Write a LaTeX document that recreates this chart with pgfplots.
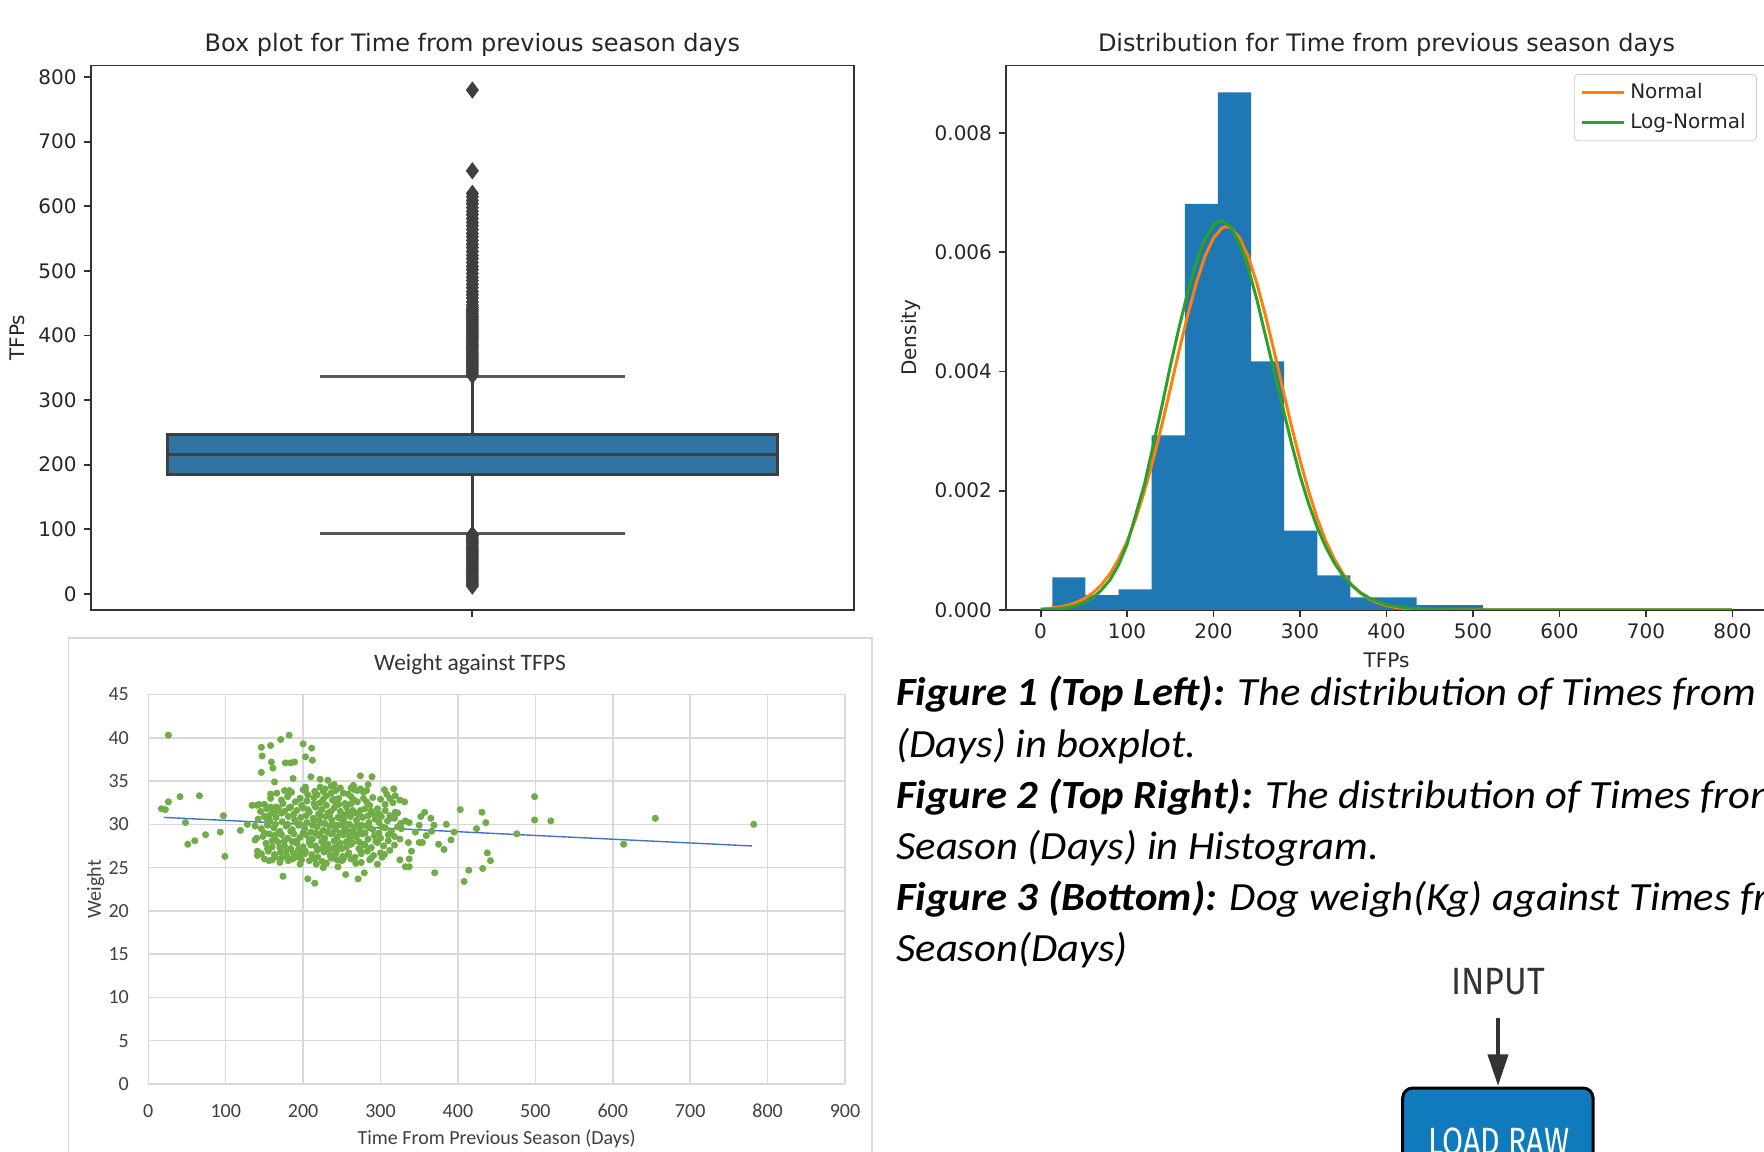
\documentclass[border=0pt]{standalone}
\usepackage{fontspec}
\setmainfont{DejaVu Sans}
\newfontfamily\carlito{Carlito}
\newfontfamily\fira{Fira Sans}
\usepackage{pgfplots}
\pgfplotsset{compat=1.18}
\usetikzlibrary{arrows.meta}

\definecolor{boxblue}{HTML}{3274A1}
\definecolor{boxgray}{HTML}{3F3F3F}
\definecolor{histblue}{HTML}{1F77B4}
\definecolor{mplorange}{HTML}{FF7F0E}
\definecolor{mplgreen}{HTML}{2CA02C}
\definecolor{exgreen}{HTML}{70AD47}
\definecolor{exblue}{HTML}{4472C4}
\definecolor{gridgray}{HTML}{D9D9D9}
\definecolor{flowblue}{HTML}{0F7BBD}

\pgfplotsset{
  mpl/.style={
    scale only axis,
    axis line style={draw=black!80, line width=0.9pt},
    tick style={draw=black!80, line width=0.9pt},
    tick align=outside, tick pos=left, major tick length=3.5pt,
    ticklabel style={font=\fontsize{10}{12}\selectfont, text=black!85},
    label style={font=\fontsize{10}{12}\selectfont, text=black!85},
    title style={font=\fontsize{12}{14}\selectfont, text=black!85, anchor=base, yshift=1pt},
    /pgf/number format/assume math mode=true,
  }
}

\begin{document}
\begin{tikzpicture}
\useasboundingbox (0pt,0pt) rectangle (882pt,575.5pt);
\fill[white] (0pt,0pt) rectangle (882pt,575.5pt);
\begin{scope}
\clip (0pt,0pt) rectangle (882pt,575.5pt);

% ---------------- Box plot ----------------
\begin{axis}[mpl,
  width=381.65pt, height=272.25pt,
  at={(45.35pt,270.5pt)}, anchor=south west,
  xmin=-0.5, xmax=0.5, ymin=-25, ymax=818,
  xtick={0}, xticklabels={},
  ytick={0,100,...,800},
  ylabel={TFPs},
  title={Box plot for Time from previous season days},
]
% whiskers and caps
\addplot[draw=boxgray, line width=1.5pt] coordinates {(0,246) (0,337)};
\addplot[draw=boxgray, line width=1.5pt] coordinates {(0,185.5) (0,94)};
\addplot[draw=black!65, line width=1.6pt] coordinates {(-0.2,337) (0.2,337)};
\addplot[draw=black!65, line width=1.6pt] coordinates {(-0.2,94) (0.2,94)};
% box
\addplot[draw=boxgray, fill=boxblue, line width=1.5pt, line join=miter] coordinates {
(-0.4,185.5) (0.4,185.5) (0.4,246) (-0.4,246) (-0.4,185.5) (0.4,185.5)};
% median
\addplot[draw=boxgray, line width=1.6pt] coordinates {(-0.4,216) (0.4,216)};
% outliers
\addplot[only marks, mark=diamond*, mark size=4pt,
  mark options={fill=boxgray, draw=boxgray, line width=0.4pt}] coordinates {
(0,338) (0,341) (0,344) (0,347) (0,350) (0,353) (0,356) (0,359) (0,362) (0,365) (0,368) (0,371) (0,374) (0,377)
(0,380) (0,383) (0,386) (0,389) (0,392) (0,395) (0,398) (0,401) (0,404) (0,407) (0,410) (0,413) (0,416) (0,419)
(0,422) (0,425) (0,428) (0,431) (0,434) (0,437) (0,440) (0,443) (0,447) (0,452) (0,458) (0,463) (0,468) (0,474)
(0,479) (0,485) (0,490) (0,496) (0,502) (0,507) (0,513) (0,519) (0,524) (0,530) (0,536) (0,541) (0,547) (0,553)
(0,558) (0,564) (0,570) (0,575) (0,581) (0,587) (0,592) (0,598) (0,604) (0,609) (0,615) (0,620) (0,655) (0,780)
(0,12) (0,15) (0,18) (0,21) (0,24) (0,27) (0,30) (0,33) (0,36) (0,39) (0,42) (0,45) (0,48) (0,51) (0,54) (0,57)
(0,60) (0,63) (0,66) (0,69) (0,72) (0,75) (0,78) (0,81) (0,84) (0,87) (0,90) (0,92)
};
\end{axis}

% ---------------- Histogram ----------------
\begin{axis}[mpl,
  width=380.5pt, height=272.25pt,
  at={(503pt,270.5pt)}, anchor=south west,
  xmin=-40, xmax=840, ymin=0, ymax=0.00913,
  xtick={0,100,...,800},
  ytick={0,0.002,0.004,0.006,0.008},
  scaled y ticks=false,
  yticklabel style={/pgf/number format/.cd, fixed, fixed zerofill, precision=3},
  xlabel={TFPs}, ylabel={Density},
  title={Distribution for Time from previous season days},
  legend style={at={(0.9868,0.9844)}, anchor=north east,
    draw=black!20, rounded corners=2pt, fill=white,
    font=\fontsize{10}{12}\selectfont, text=black!85,
    inner xsep=3pt, inner ysep=2pt, row sep=1pt,
    nodes={inner sep=2.5pt}},
  legend cell align=left,
  legend image code/.code={\draw[#1, line width=1.5pt] (0pt,0pt) -- (21pt,0pt);},
]
\addplot[ybar interval, fill=histblue, draw=none, forget plot] coordinates {
(13.6,0.000547) (51.9,0.00025) (90.2,0.000346) (128.5,0.00293) (166.8,0.00681)
(205.1,0.00868) (243.4,0.00417) (281.7,0.00133) (320,0.00058) (358.3,0.00021)
(396.6,0.00021) (434.9,0.00008) (473.2,0.00008) (511.5,0.000008) (549.8,0.000008)
(588.1,0.000008) (626.4,0.000008) (664.7,0) (703,0) (741.3,0.000008) (779.6,0)
};
\addplot[mplorange, line width=1.5pt] coordinates {
(0,0.0000158) (10,0.0000272) (20,0.0000457) (30,0.000075) (40,0.00012)
(50,0.000186) (60,0.000282) (70,0.000417) (80,0.000601) (90,0.000844)
(100,0.00115) (110,0.00153) (120,0.00199) (130,0.00251) (140,0.00309)
(150,0.00371) (160,0.00434) (170,0.00494) (180,0.00548) (190,0.00593)
(200,0.00624) (210,0.00641) (215,0.00643) (220,0.00641) (230,0.00624)
(240,0.00593) (250,0.00548) (260,0.00494) (270,0.00434) (280,0.00371)
(290,0.00309) (300,0.00251) (310,0.00199) (320,0.00153) (330,0.00115)
(340,0.000844) (350,0.000601) (360,0.000417) (370,0.000282) (380,0.000186)
(390,0.00012) (400,0.000075) (410,0.0000457) (420,0.0000272) (440,0.0000089)
(460,0.0000026) (500,0.0000002) (600,0) (700,0) (800,0)
};
\addlegendentry{Normal}
\addplot[mplgreen, line width=1.5pt] coordinates {
(0,0.000005) (10,0.00001) (20,0.00002) (30,0.00004) (40,0.00007)
(50,0.00012) (60,0.0002) (70,0.00033) (80,0.0005) (90,0.00075)
(100,0.0011) (110,0.0016) (120,0.0021) (130,0.00275) (140,0.0034)
(150,0.00409) (160,0.00473) (170,0.00532) (180,0.00583) (190,0.00622)
(200,0.00646) (209,0.00653) (220,0.00642) (230,0.00615) (240,0.00574)
(250,0.00521) (260,0.0046) (270,0.004) (280,0.0034) (290,0.0028)
(300,0.00225) (310,0.00178) (320,0.00138) (330,0.00105) (340,0.00078)
(350,0.00057) (360,0.00041) (370,0.00029) (380,0.0002) (390,0.00014)
(400,0.00009) (420,0.00004) (440,0.000015) (470,0.000004) (500,0.000001)
(600,0) (700,0) (800,0)
};
\addlegendentry{Log-Normal}
\end{axis}

% ---------------- Excel scatter ----------------
\draw[gridgray, line width=0.75pt] (34.15pt,256.5pt) rectangle (436pt,-20pt);
\begin{axis}[
  scale only axis,
  width=348.35pt, height=194.75pt,
  at={(74.15pt,33.5pt)}, anchor=south west,
  xmin=0, xmax=900, ymin=0, ymax=45,
  xtick={0,100,...,900}, ytick={0,5,...,45},
  grid=major, major grid style={draw=gridgray, line width=0.75pt},
  axis line style={draw=none}, major tick length=0pt,
  ticklabel style={font=\carlito\fontsize{10}{12}\selectfont, text=black!75},
  /pgf/number format/assume math mode=true,
  yticklabel style={xshift=-6.2pt},
  xticklabel style={yshift=-6.5pt},
  title={Weight against TFPS},
  title style={font=\carlito\fontsize{11.75}{14}\selectfont, text=black!80,
    at={(axis description cs:0.4618,1)}, anchor=center, yshift=9.2pt},
  xlabel={Time From Previous Season (Days)},
  ylabel={Weight},
  xlabel style={font=\carlito\fontsize{10}{12}\selectfont, text=black!75,
    at={(axis description cs:0.5,0)}, anchor=center, yshift=-27.25pt},
  ylabel style={font=\carlito\fontsize{10}{12}\selectfont, text=black!75,
    at={([xshift=-26.35pt]axis description cs:0,0.5)}, anchor=center},
]
\addplot[only marks, mark=*, mark size=1.55pt, mark options={fill=exgreen, draw=exgreen}] coordinates {
(17,31.8) (22,31.7) (26,40.3) (26,32.6) (41,33.2) (48,30.2) (51,27.7) (60,28.1) (66,33.3) (74,28.8)
(93,29.1) (97,31.0) (99,26.3) (119,29.3) (128,30.0) (134,32.2) (138,28.2) (140,28.4) (141,26.9) (141,26.4)
(146,38.9) (147,37.9) (146,36.0) (158,39.1) (159,37.2) (161,36.5) (163,34.9) (171,39.8) (177,37.1) (182,40.3)
(184,37.1) (189,37.2) (187,35.3) (174,24.0) (182,33.9) (200,39.3) (203,37.8) (211,38.8) (212,37.4) (206,23.7)
(215,23.2) (222,35.2) (222,34.3) (203,34.3) (203,33.9) (236,34.4) (265,34.5) (274,35.6) (289,35.5) (274,34.1)
(282,33.9) (255,24.2) (271,23.7) (279,24.4) (245,25.1) (226,25.0) (217,25.4) (305,34.0) (317,34.1) (308,33.5)
(319,33.3) (325,32.8) (331,32.6) (316,32.5) (319,31.4) (305,26.5) (325,25.9) (332,25.1) (337,25.1) (337,26.0)
(340,26.9) (336,27.9) (325,28.3) (327,29.5) (332,30.4) (337,30.2) (345,29.1) (350,29.9) (352,30.9) (357,31.4)
(359,28.7) (354,27.9) (350,27.9) (365,30.7) (369,29.9) (366,29.2) (370,24.4) (375,27.7) (382,27.1) (385,30.0)
(391,28.2) (395,29.1) (403,31.7) (408,23.4) (414,24.7) (424,29.5) (431,31.4) (432,24.9) (436,30.2) (438,26.7)
(442,25.8) (476,28.9) (499,33.2) (499,30.5) (520,30.4) (614,27.7) (655,30.7) (782,30.0)
(150,32.3) (158,33.0) (165,32.0) (172,32.8) (180,33.2) (190,32.6) (196,33.0) (205,32.7) (214,33.1) (222,32.5)
(230,33.3) (238,32.8) (246,33.0) (254,32.4) (262,33.2) (270,32.6) (278,33.0) (286,32.2) (296,31.8) (140,32.2) (143,32.3)
(145,31.5) (153,31.8) (160,31.3) (168,31.9) (176,31.5) (184,32.0) (192,31.6) (200,31.9) (208,31.4) (216,32.0)
(224,31.7) (232,31.3) (240,31.9) (248,31.5) (256,32.0) (264,31.6) (272,31.2) (280,31.8) (288,31.5) (298,31.2) (306,31.6) (312,31.0)
(142,30.6) (150,30.9) (157,30.4) (165,30.8) (173,30.3) (181,30.9) (189,30.5) (197,30.8) (205,30.2) (213,30.7)
(221,30.4) (229,30.9) (237,30.5) (245,30.8) (253,30.3) (261,30.9) (269,30.5) (277,30.8) (285,30.2) (293,30.6)
(301,30.9) (309,30.4) (318,30.7) (326,30.1)
(138,29.8) (146,29.5) (154,29.9) (162,29.6) (170,29.2) (178,29.8) (186,29.4) (194,29.9) (202,29.5) (210,29.1)
(218,29.7) (226,29.3) (234,29.8) (242,29.4) (250,29.9) (258,29.2) (266,29.6) (274,29.3) (282,29.8) (290,29.4)
(298,29.0) (306,29.6) (314,29.2) (322,29.7)
(148,28.6) (156,28.9) (164,28.3) (172,28.8) (180,28.4) (188,28.9) (196,28.5) (204,28.8) (212,28.3) (220,28.7)
(228,28.4) (236,28.9) (244,28.5) (252,28.8) (260,28.2) (268,28.6) (276,28.9) (284,28.3) (292,28.7) (300,28.4) (310,28.1) (318,28.6)
(152,27.8) (160,27.4) (168,27.9) (176,27.5) (184,27.2) (192,27.8) (200,27.4) (208,27.9) (216,27.5) (224,27.2)
(232,27.7) (240,27.3) (248,27.8) (256,27.4) (264,27.9) (272,27.2) (280,27.6) (288,27.3) (296,27.9) (304,27.5) (312,27.0)
(146,26.6) (155,26.9) (163,26.5) (171,26.8) (179,26.3) (187,26.7) (195,26.4) (203,26.9) (211,26.5) (219,26.2)
(227,26.8) (235,26.4) (243,26.9) (251,26.3) (259,26.7) (267,26.2) (275,26.6) (283,26.9) (291,26.4) (300,26.7)
(150,26.0) (160,25.9) (172,26.1) (181,25.8) (190,26.2) (198,25.9) (214,26.0) (225,25.7) (238,26.1) (250,25.8)
(262,26.0) (275,25.6) (288,26.1) (302,26.2)
(185,33.7) (200,34.0) (215,33.8) (228,34.1) (242,33.9) (252,33.6) (266,34.0) (278,33.7) (158,33.5) (240,34.6) (232,35.1)
(204,31.0) (212,29.9) (220,31.2) (228,30.1) (236,31.5) (244,29.9) (252,31.1) (260,30.0) (268,31.3) (276,29.9)
(284,31.0) (196,30.0) (188,31.2) (180,30.0) (172,31.3) (164,30.0) (156,31.0) (208,28.2) (216,29.0) (224,28.0)
(232,29.1) (240,28.1) (248,29.0) (256,28.0) (264,29.1) (272,28.0) (280,29.0) (200,29.0) (192,28.1) (184,29.2)
(176,28.1) (168,29.0) (160,28.1) (214,32.4) (222,31.0) (230,32.2) (238,30.0) (246,32.3) (254,31.0) (262,32.4)
(270,30.0) (234,27.0) (242,26.6) (250,27.2) (258,26.5) (226,27.9) (218,27.0)
(150,29.0) (154,30.5) (158,32.0) (162,28.7) (166,31.6) (170,27.3) (174,32.4) (178,26.8) (182,31.9) (186,28.0)
(190,30.3) (194,27.1) (198,32.2) (202,26.6) (206,31.7) (210,27.6) (214,30.4) (218,33.4) (222,28.9) (226,32.9)
(230,27.5) (234,31.0) (238,29.0) (242,32.5) (246,27.6) (250,30.6) (254,29.4) (258,31.4) (262,27.7) (266,32.8)
(270,28.8) (274,31.6) (278,27.7) (282,32.6) (286,29.6) (290,31.2) (294,28.0) (298,30.2) (302,29.7) (306,32.3)
(310,28.8) (314,30.8) (318,27.6) (322,31.3) (210,35.5) (226,33.8) (248,34.2) (258,33.5) (270,33.9) (290,33.1)
(300,32.9) (196,25.4) (208,25.8) (230,25.5) (244,25.9) (268,25.5) (286,25.9) (296,25.4) (166,33.6) (176,33.9)
(154,27.2) (164,26.2) (156,25.8) (170,25.6) (236,26.1) (252,26.0) (206,33.4) (236,33.6) (262,34.2) (284,34.6)
(312,33.0) (240,32.9) (260,28.6) (274,27.0) (196,26.9) (186,26.0)
};
\addplot[exblue, line width=0.7pt] coordinates {(20,30.8) (780,27.5)};
\end{axis}

% ---------------- Caption text ----------------
\begin{scope}[every node/.style={anchor=base west, inner sep=0pt, xscale=1.065,
    font=\carlito\fontsize{20}{24}\selectfont}]
\node at (448pt,222.5pt) {\textbf{\textit{Figure 1 (Top Left):}} \textit{The distribution of Times from}};
\node at (448pt,196.95pt) {\textit{(Days) in boxplot.}};
\node at (448pt,171.4pt) {\textbf{\textit{Figure 2 (Top Right):}} \textit{The distribution of Times from}};
\node at (448pt,145.85pt) {\textit{Season (Days) in Histogram.}};
\node at (448pt,120.3pt) {\textbf{\textit{Figure 3 (Bottom):}} \textit{Dog weigh(Kg) against Times from}};
\node at (448pt,94.75pt) {\textit{Season(Days)}};
\end{scope}

% ---------------- Flowchart fragment ----------------
\node[font=\fira\fontsize{19}{22}\selectfont, text=black!80, xscale=0.9] at (749pt,84.65pt) {INPUT};
\draw[black!80, line width=2pt, -{Triangle[width=10pt,length=15.8pt]}] (749pt,66.5pt) -- (749pt,32.5pt);
\draw[black, line width=1.5pt, fill=flowblue, rounded corners=5pt] (701.35pt,31.5pt) rectangle (796.5pt,-30pt);
\node[anchor=base, inner sep=0pt, text=white, font=\fira\fontsize{19}{22}\selectfont, xscale=0.8] at (749.5pt,-1.5pt) {LOAD RAW};

\end{scope}
\end{tikzpicture}
\end{document}
